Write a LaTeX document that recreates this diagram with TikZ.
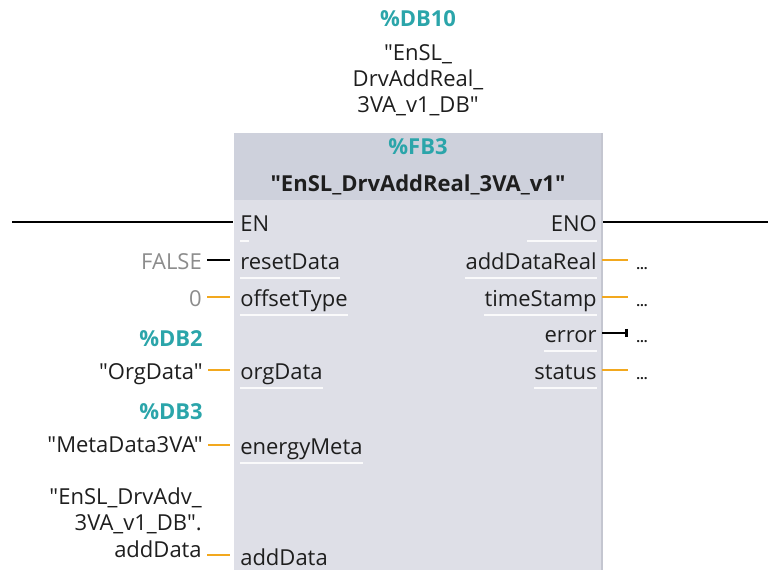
\documentclass[tikz,border=0pt]{standalone}
\usepackage{fontspec}
\setmainfont{Open Sans}[Ligatures=TeXOff]
\usepackage{tikz}
\usetikzlibrary{positioning,arrows.meta,calc}
\definecolor{fbbody}{RGB}{222,223,231}
\definecolor{fbhead}{RGB}{206,209,220}
\definecolor{fbedge}{RGB}{196,198,208}
\definecolor{tealref}{RGB}{43,165,170}
\definecolor{wireor}{RGB}{242,168,30}
\definecolor{valgray}{RGB}{140,140,140}
\definecolor{txt}{RGB}{30,30,30}
\newcommand{\fbfont}{\fontsize{16.5}{19.8}\selectfont}

\begin{document}
\begin{tikzpicture}[x=0.75pt,y=-0.75pt,font=\fbfont,
  pinl/.style={anchor=base west,inner sep=0pt,text=txt},
  pinr/.style={anchor=base east,inner sep=0pt,text=txt},
  val/.style={anchor=base east,inner sep=0pt,text=txt,align=right},
  dbref/.style={inner sep=0pt,text=tealref,font=\fbfont\bfseries},
  wire/.style={draw=wireor,line width=2.2pt},
  boolwire/.style={draw=black,line width=2pt},
  sepline/.style={draw=white,line width=0.9pt,opacity=0.85},
  dots/.style={anchor=base west,inner sep=0pt,text=txt,font=\fontsize{10}{12}\selectfont\bfseries}]
  \useasboundingbox (0,0) rectangle (768,570);
  % block body and header
  \fill[fbbody] (234,133) rectangle (602,572);
  \fill[fbhead] (234,133) rectangle (602,200);
  \draw[fbedge,line width=1pt] (602,133) -- (602,572);
  % instance and block names (base = last line)
  \node[dbref,anchor=base] (dbInst) at (418,27) {\%DB10};
  \node[inner sep=0pt,text=txt,align=center,anchor=base] (dbName) at (418,113)
    {"EnSL\_\\DrvAddReal\_\\3VA\_v1\_DB"};
  \node[dbref,anchor=base] (fbNum) at (418,155) {\%FB3};
  \node[inner sep=0pt,text=txt,anchor=base,font=\fbfont\bfseries] (fbName) at (418,192)
    {"EnSL\_DrvAddReal\_3VA\_v1"};
  % enable in / out
  \coordinate (enStart) at (12,222);
  \coordinate (enoEnd) at (768,222);
  \node[pinl] (pEn) at (240,232) {EN};
  \node[pinr] (pEno) at (597,232) {ENO};
  \draw[boolwire] (enStart) -- ($(pEn.base west)+(-7,-10)$);
  \draw[boolwire] ($(pEno.base east)+(6,-10)$) -- (enoEnd);
  % actual parameters
  \node[val,text=valgray] (vRst) at (202,270) {FALSE};
  \node[val,text=valgray] (vOff) at (202,307) {0};
  \node[dbref,anchor=base east] (dbOrg) at (203,347) {\%DB2};
  \node[val] (vOrg) at (203,380) {"OrgData"};
  \node[dbref,anchor=base east] (dbMeta) at (203,420) {\%DB3};
  \node[val] (vMeta) at (203,452) {"MetaData3VA"};
  \node[val] (vAdd) at (202,557) {"EnSL\_DrvAdv\_\\3VA\_v1\_DB".\\addData};
  % inputs
  \foreach \nm/\bl/\pin/\wc in {Rst/270/resetData/boolwire,
      Off/307/offsetType/wire, Org/380/orgData/wire,
      Meta/455/energyMeta/wire, Add/565/addData/wire}{
    \node[pinl] (p\nm) at (240,\bl) {\pin};
    \draw[sepline] ($(p\nm.base west)+(0,8)$) -- ($(p\nm.base east)+(0,8)$);
    \draw[\wc] ($(v\nm.east |- p\nm.base)+(5,-10)$) -- ($(p\nm.base west)+(-10,-10)$);
  }
  \draw[sepline] ($(pEn.base west)+(0,9)$) -- ($(pEn.base west)+(9,9)$);
  % outputs
  \foreach \nm/\bl/\pin in {Real/270/addDataReal, Time/307/timeStamp,
      Err/343/error, Stat/380/status}{
    \node[pinr] (p\nm) at (597,\bl) {\pin};
    \node[dots] (o\nm) at (636,\bl) {...};
    \draw[sepline] ($(p\nm.base west)+(0,8)$) -- ($(p\nm.base east)+(0,8)$);
  }
  \draw[sepline] ($(pEno.base east)+(-70,9)$) -- ($(pEno.base east)+(0,9)$);
  \draw[wire] ($(pReal.base east)+(5,-10)$) -- ($(oReal.base west)+(-8,-10)$);
  \draw[wire] ($(pTime.base east)+(5,-10)$) -- ($(oTime.base west)+(-8,-10)$);
  \draw[boolwire,-{Bar[width=6pt]}] ($(pErr.base east)+(5,-10)$) -- ($(oErr.base west)+(-8,-10)$);
  \draw[wire] ($(pStat.base east)+(5,-10)$) -- ($(oStat.base west)+(-8,-10)$);
\end{tikzpicture}
\end{document}
